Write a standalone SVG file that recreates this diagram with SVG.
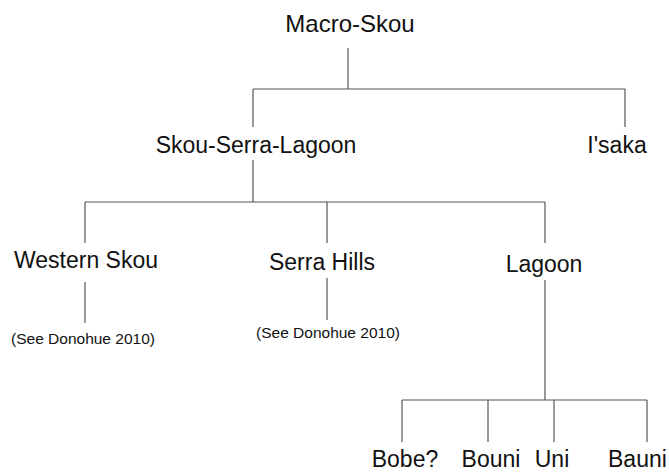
<svg xmlns="http://www.w3.org/2000/svg" width="669" height="474" viewBox="0 0 669 474">
<style>
text{font-family:"Liberation Sans",Arial,sans-serif;fill:#111;}
.m{font-size:23px;text-anchor:middle;}
.s{font-size:15.5px;text-anchor:middle;}
.c line{stroke:#555;stroke-width:1.2;}
</style>
<rect width="669" height="474" fill="#fff"/>
<g class="c" id="connectors">
<line x1="348" y1="48" x2="348" y2="89"/>
<line x1="253" y1="89" x2="625" y2="89"/>
<line x1="253" y1="89" x2="253" y2="127"/>
<line x1="625" y1="89" x2="625" y2="127"/>
<line x1="253" y1="160" x2="253" y2="202"/>
<line x1="85" y1="202" x2="545" y2="202"/>
<line x1="85" y1="202" x2="85" y2="243"/>
<line x1="327" y1="202" x2="327" y2="243"/>
<line x1="545" y1="202" x2="545" y2="243"/>
<line x1="85" y1="282" x2="85" y2="323"/>
<line x1="327" y1="278" x2="327" y2="320"/>
<line x1="545" y1="280" x2="545" y2="400"/>
<line x1="402" y1="400" x2="647" y2="400"/>
<line x1="402" y1="400" x2="402" y2="442"/>
<line x1="488" y1="400" x2="488" y2="442"/>
<line x1="554" y1="400" x2="554" y2="442"/>
<line x1="647" y1="400" x2="647" y2="442"/>
</g>
<g id="macro-skou"><text class="m" x="350" y="32" style="font-size:24px">Macro-Skou</text></g>
<g id="skou-serra-lagoon"><text class="m" x="256" y="153">Skou-Serra-Lagoon</text></g>
<g id="isaka"><text class="m" x="617" y="153">I'saka</text></g>
<g id="western-skou"><text class="m" x="86" y="268">Western Skou</text></g>
<g id="serra-hills"><text class="m" x="322" y="270">Serra Hills</text></g>
<g id="lagoon"><text class="m" x="544" y="272">Lagoon</text></g>
<g id="ws-note"><text class="s" x="83" y="344">(See Donohue 2010)</text></g>
<g id="sh-note"><text class="s" x="328" y="338">(See Donohue 2010)</text></g>
<g id="bobe"><text class="m" x="405" y="467">Bobe?</text></g>
<g id="bouni"><text class="m" x="491" y="467">Bouni</text></g>
<g id="uni"><text class="m" x="552" y="467">Uni</text></g>
<g id="bauni"><text class="m" x="608" y="467" style="text-anchor:start">Bauni</text></g>
</svg>
